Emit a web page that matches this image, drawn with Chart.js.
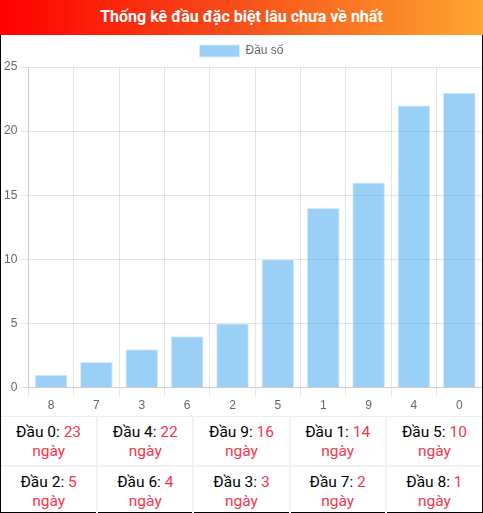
<!DOCTYPE html>
<html>
<head>
<meta charset="utf-8">
<script src="https://cdn.jsdelivr.net/npm/chart.js@4.4.0/dist/chart.umd.min.js"></script>
<style>
    body { margin: 0; background: #fff; }
    .box { width: 483px; height: 513px; box-sizing: border-box; font-family: Roboto, sans-serif; }
    .head {
        height: 35px; line-height: 34px; text-align: center; color: #fff; font-weight: bold; font-size: 16px;
        background: linear-gradient(to right, #f00 0%, #f5501a 50%, #ffa62e 100%);
    }
    .body { border: 1px solid #000; border-top: none; height: 478px; box-sizing: border-box; }
    .canvas-container { position: relative; width: 481px; height: 381px; }
    table { width: 481px; border-collapse: collapse; table-layout: fixed; }
    td { border: 2px solid #f2f2f2; text-align: center; font-size: 15.5px; line-height: 19px; height: 46px; padding: 2px 0 0 0; color: #000; }
    tr:first-child td { border-top: 1px solid #eee; }
    tr td:first-child { border-left: none; }
    tr td:last-child { border-right: none; }
    tr:last-child td { border-bottom: none; height: 45px; }
    .red { color: #f5364f; }
</style>
</head>
<body>
<div class="box">
    <div class="head">Thống kê đầu đặc biệt lâu chưa về nhất</div>
    <div class="body">
        <div class="canvas-container"><canvas id="dau_graph"></canvas></div>
        <table id="dau_table"></table>
    </div>
</div>
<script>
// dữ liệu
const heads = ['8', '7', '3', '6', '2', '5', '1', '9', '4', '0'];
const days = [1, 2, 3, 4, 5, 10, 14, 16, 22, 23];
const yTicks = [0, 5, 10, 15, 20, 25];

// bảng bên dưới: thứ tự giảm dần
var order = heads.map(function (h, i) { return { head: h, day: days[i] }; }).reverse();
var html = '';
for (var r = 0; r < 2; r++) {
    html += '<tr>';
    for (var c = 0; c < 5; c++) {
        var item = order[r * 5 + c];
        html += '<td>Đầu ' + item.head + ': <span class="red">' + item.day + '</span><br><span class="red">ngày</span></td>';
    }
    html += '</tr>';
}
document.getElementById('dau_table').innerHTML = html;

const dauGraph = document.getElementById('dau_graph');
new Chart(dauGraph, {
    type: 'bar',
    data: {
        labels: heads,
        datasets: [{
            label: 'Đầu số',
            data: days,
            backgroundColor: 'rgba(54, 162, 235, 0.5)',
            borderColor: '#d6ecfc',
            borderWidth: 1,
        }]
    },
    options: {
        responsive: true,
        maintainAspectRatio: false,
        animation: false,
        layout: { padding: 0 },
        plugins: {
            legend: {
                labels: { color: '#666', font: { size: 12 }, boxWidth: 40 }
            },
            tooltip: { enabled: false }
        },
        scales: {
            y: {
                beginAtZero: true,
                min: yTicks[0],
                max: yTicks[yTicks.length - 1],
                ticks: { stepSize: 5, color: '#666' },
                grid: { color: 'rgba(0,0,0,0.1)' }
            },
            x: {
                ticks: { color: '#666' },
                grid: { color: 'rgba(0,0,0,0.1)' }
            }
        }
    }
});
</script>
</body>
</html>
